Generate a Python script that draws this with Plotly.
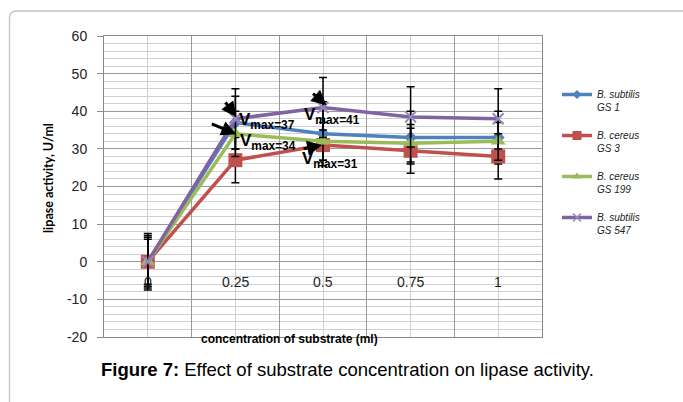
import plotly.graph_objects as go

# ---- data ----
categories = ["0", "0.25", "0.5", "0.75", "1"]
series_names = ["B. subtilis<br>GS 1", "B. cereus<br>GS 3", "B. cereus<br>GS 199", "B. subtilis<br>GS 547"]
gs1 = [0, 37, 34, 33, 33]
gs3 = [0, 27, 31, 29.5, 28]
gs199 = [0, 34, 32, 31.5, 32]
gs547 = [0, 38, 41, 38.5, 38]
err_gs1 = [6.5, 7, 8.5, 7, 7]
err_gs3 = [7.5, 6, 4, 6, 6]
err_gs199 = [6, 6, 5, 5, 5]
err_gs547 = [7, 8, 8, 8, 8]
y_ticks = [-20, -10, 0, 10, 20, 30, 40, 50, 60]
y_ticktext = ["-20", "-10", "0", "10", "20", "30", "40", "50", "60"]
vmax_labels = ["V<sub>max=37</sub>", "V<sub>max=34</sub>", "V<sub>max=41</sub>", "V<sub>max=31</sub>"]

# ---- geometry ----
W, H = 683, 402
L, R, T, B = 104, 542, 36, 337
def px(x):
    return (x - L) / (R - L)
def py(y):
    return (B - y) / (B - T)

xi = list(range(len(categories)))
colors = ["#4F81BD", "#C0504D", "#9BBB59", "#8064A2"]
symbols = ["diamond", "square", "triangle-up", "x-thin"]
sizes = [10, 14, 13, 11]
leg_sizes = [7, 9, 8, 8]
values = [gs1, gs3, gs199, gs547]
errs = [err_gs1, err_gs3, err_gs199, err_gs547]

fig = go.Figure()
for name, v, e, c, s, sz in zip(series_names, values, errs, colors, symbols, sizes):
    marker = dict(symbol=s, size=sz, color=c)
    if s == "x-thin":
        marker["line"] = dict(color="#9A86BE", width=2)
    fig.add_trace(go.Scatter(
        x=xi, y=v, name=name, showlegend=False, mode="lines+markers",
        line=dict(color=c, width=3.5), marker=marker,
        error_y=dict(type="data", array=e, visible=True, color="black", thickness=1.5, width=4),
    ))
# legend entries (smaller markers, as in the reference legend)
for name, c, s, sz in zip(series_names, colors, symbols, leg_sizes):
    marker = dict(symbol=s, size=sz, color=c)
    if s == "x-thin":
        marker["line"] = dict(color="#9A86BE", width=1.5)
    fig.add_trace(go.Scatter(x=[None], y=[None], name=name, legendgroup=name, mode="lines+markers",
                             line=dict(color=c, width=3.5), marker=marker))

font_main = "Liberation Sans"
annotations = []
# x tick labels drawn inside the plot (category axis crosses at 0)
for i, lab in enumerate(categories):
    annotations.append(dict(x=i, y=-5.4, xref="x", yref="y", text=lab, showarrow=False,
                            font=dict(family=font_main, size=14, color="#222")))

# arrows
arrows = [(1.01, 38.5, -12, -16), (1.01, 33.9, -26, -11), (2.04, 41.6, -15, -13), (1.99, 31.0, -20, 4)]
for ax_, ay_, dx, dy in arrows:
    annotations.append(dict(x=ax_, y=ay_, xref="x", yref="y", text="", showarrow=True,
                            ax=dx, ay=dy, arrowhead=2, arrowsize=1, arrowwidth=3, arrowcolor="black"))
# Vmax labels
vpos = [(1.02, 37.4), (1.035, 31.9), (1.757, 38.8), (1.733, 27.0)]
for (vx, vy), t in zip(vpos, vmax_labels):
    annotations.append(dict(x=vx, y=vy, xref="x", yref="y", text="<b>" + t + "</b>", showarrow=False,
                            xanchor="left", yanchor="middle",
                            font=dict(family=font_main, size=17, color="black")))

# axis titles
annotations.append(dict(x=px(289), y=py(348), xref="paper", yref="paper",
                        text="<b>concentration of substrate (ml)</b>", showarrow=False,
                        font=dict(family=font_main, size=12, color="black")))
annotations.append(dict(x=px(48), y=py(178), xref="paper", yref="paper", textangle=-90,
                        xanchor="center", yanchor="middle",
                        text="<b>lipase activity, U/ml</b>", showarrow=False,
                        font=dict(family="Lato", size=12.5, color="black")))
# caption
annotations.append(dict(x=px(99), y=py(382), xref="paper", yref="paper", xanchor="left",
                        text="<b>Figure 7:</b> Effect of substrate concentration on lipase activity.",
                        showarrow=False,
                        font=dict(family=font_main, size=18.5, color="black")))

shapes = [dict(type="path", xref="paper", yref="paper",
               path="M {x0},{y0} L {x0},{y1} Q {x0},{y2} {x3},{y2} L {x4},{y2}".format(
                   x0=px(9.5), y0=py(420), y1=py(18), y2=py(11), x3=px(16.5), x4=px(700)),
               line=dict(color="#c4c4c4", width=1.3))]

fig.update_layout(
    width=W, height=H,
    margin=dict(l=L, r=W - R, t=T, b=H - B),
    paper_bgcolor="white", plot_bgcolor="white",
    showlegend=True,
    legend=dict(x=px(557), y=py(81.5), xanchor="left", yanchor="top",
                font=dict(family=font_main, size=10, color="#222", style="italic"),
                valign="top", tracegroupgap=12, bgcolor="rgba(0,0,0,0)", itemwidth=30),
    xaxis=dict(range=[-0.5, 4.5], tick0=-0.5, dtick=1, showticklabels=False, ticks="",
               showgrid=True, gridcolor="#9a9a9a", gridwidth=1,
               minor=dict(dtick=0.5, tick0=-0.5, showgrid=True, gridcolor="#d0d0d0", gridwidth=1),
               showline=True, linecolor="#8a8a8a", linewidth=1, mirror=True, zeroline=False,
               fixedrange=True),
    yaxis=dict(range=[-20, 60], tickvals=y_ticks, ticktext=y_ticktext, ticks="outside", ticklen=6,
               tickcolor="#8a8a8a", ticklabelstandoff=7,
               tickfont=dict(family=font_main, size=14, color="#222"),
               showgrid=True, gridcolor="#9a9a9a", gridwidth=1,
               minor=dict(dtick=2, tick0=0, showgrid=True, gridcolor="#d0d0d0", gridwidth=1),
               showline=True, linecolor="#8a8a8a", linewidth=1, mirror=True, zeroline=False),
    annotations=annotations, shapes=shapes,
)

fig.write_html("out.html")
